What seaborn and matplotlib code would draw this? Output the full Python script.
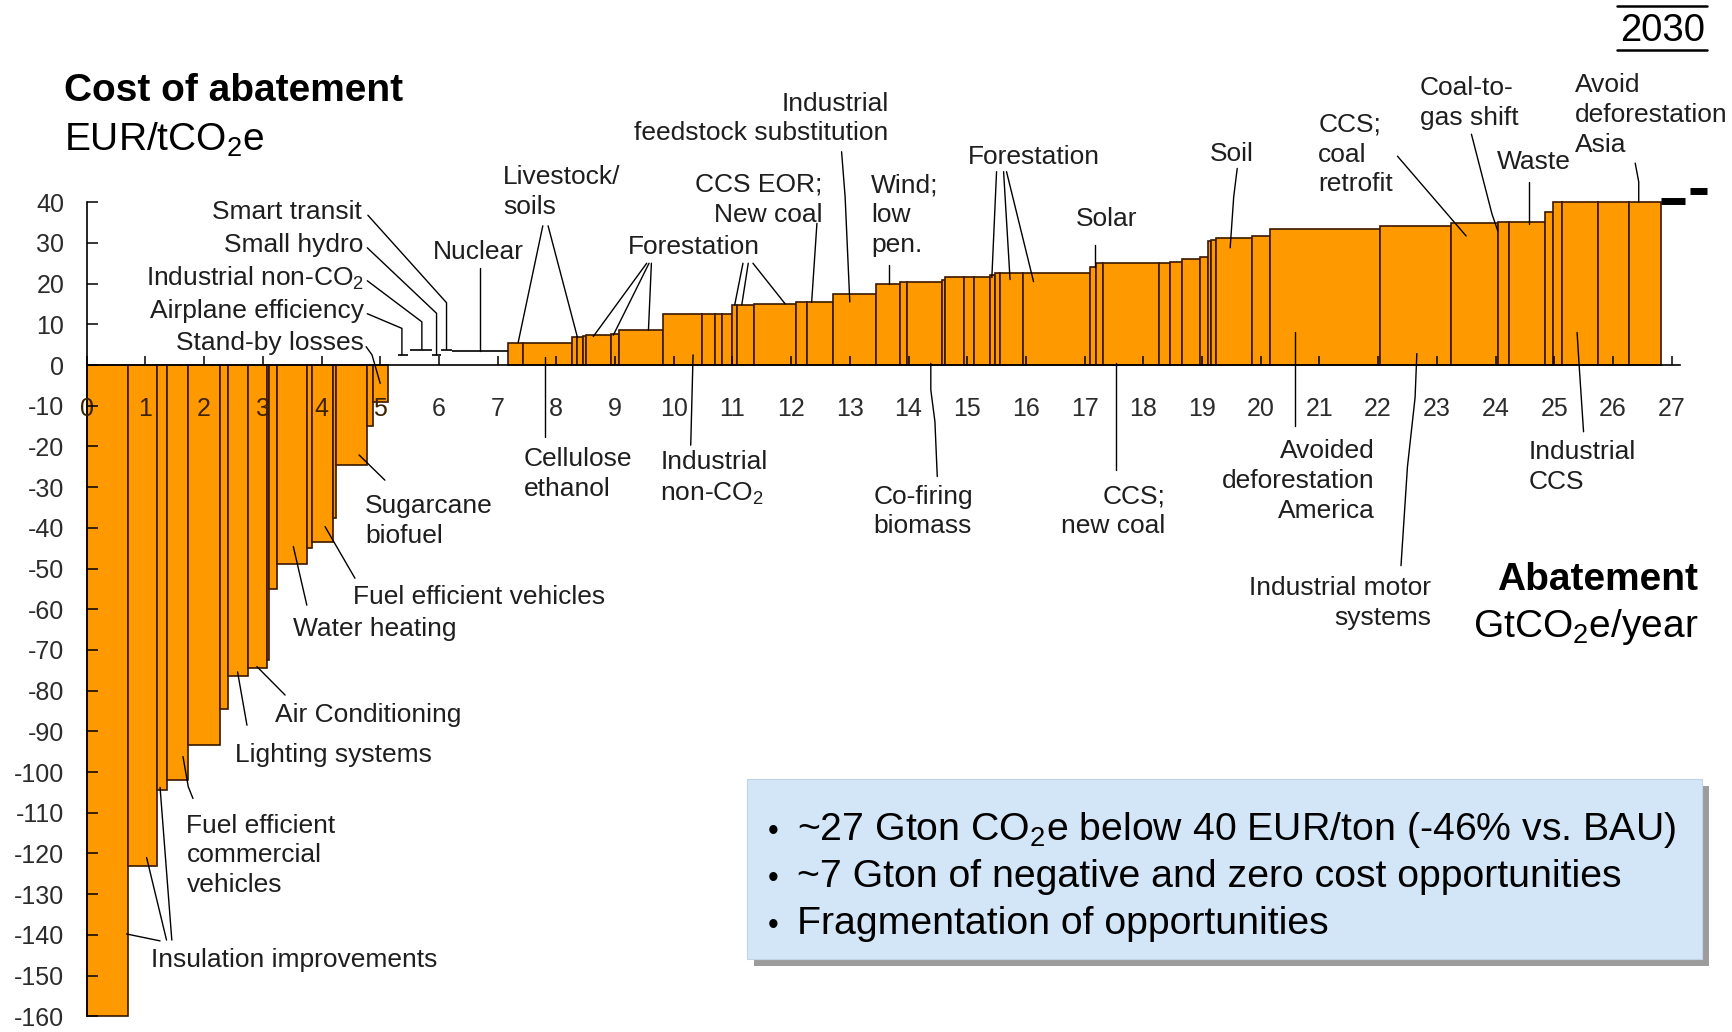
import numpy as np
import pandas as pd
import seaborn as sns
import matplotlib.pyplot as plt
from matplotlib.patches import Rectangle

W, H = 1733, 1032

# Abatement cost curve 2030: bar edges (cumulative GtCO2e/year) and cost per bar (EUR/tCO2e)
neg_edges = [0.00, 0.70, 1.19, 1.36, 1.73, 2.27, 2.40, 2.74, 3.07, 3.11, 3.24, 3.76,
             3.84, 4.20, 4.24, 4.77, 4.88, 5.14]
neg_costs = [-160, -123, -104.5, -102, -93.4, -84.6, -76.4, -74.4, -72.5, -55, -48.8,
             -45, -43.5, -37.5, -24.6, -15, -9]

# near-zero measures (small hydro, nuclear, ...)
low_edges = [5.14, 5.31, 5.48, 5.51, 5.88, 6.03, 6.22, 7.18]
low_costs = [0, 2.5, 0, 3.8, 2.5, 3.8, 3.4]

pos_edges = [7.18, 7.44, 8.26, 8.35, 8.46, 8.50, 8.94, 9.06, 9.81, 10.48, 10.70, 10.82,
             11.00, 11.07, 11.36, 12.09, 12.27, 12.72, 13.45, 13.86, 13.97, 14.57, 14.62,
             14.95, 15.12, 15.39, 15.47, 15.56, 15.95, 17.09, 17.20, 17.32, 18.27, 18.46,
             18.66, 18.97, 19.11, 19.15, 19.24, 19.85, 20.16, 22.04, 23.24, 24.04, 24.23,
             24.84, 24.98, 25.14, 25.75, 26.28, 26.82]
pos_costs = [5.5, 5.5, 6.8, 6.9, 7.1, 7.3, 7.5, 8.6, 12.5, 12.5, 12.5, 12.5, 14.8, 14.8,
             15.0, 15.4, 15.4, 17.4, 19.8, 20.3, 20.3, 20.9, 21.7, 21.7, 21.7, 22.1, 22.7,
             22.7, 22.7, 24.2, 25.0, 25.0, 25.0, 25.4, 26.0, 26.5, 30.4, 30.8, 31.2, 31.7,
             33.5, 34.1, 35.0, 35.1, 35.1, 37.5, 40, 40, 40, 40]

# black tail dashes beyond 40 EUR/t
tail_left = [26.82, 27.32]
tail_right = [27.23, 27.61]
tail_costs = [40.4, 42.75]

x_ticks = list(range(0, 28))
y_ticks = list(range(-160, 41, 10))

bullets = ["~27 Gton CO$_2$e below 40 EUR/ton (-46% vs. BAU)",
           "~7 Gton of negative and zero cost opportunities",
           "Fragmentation of opportunities"]

# label text, x, y, alignment, leader lines (data coords)
labels = [
    ("Smart transit", 4.69, 37.6, "right", [[(4.79, 36.8), (6.13, 15.3), (6.13, 3.8)]]),
    ("Small hydro", 4.72, 29.5, "right", [[(4.78, 28.8), (5.96, 12.7), (5.96, 2.5)]]),
    ("Industrial non-CO$_2$", 4.72, 21.4, "right", [[(4.78, 20.7), (5.71, 10.6), (5.71, 3.8)]]),
    ("Airplane efficiency", 4.72, 13.3, "right", [[(4.78, 12.6), (5.37, 9.0), (5.37, 2.5)]]),
    ("Stand-by losses", 4.72, 5.4, "right", [[(4.76, 4.5), (4.86, 2.5), (5.0, -4.5)]]),
    ("Nuclear", 6.67, 27.8, "center", [[(6.7, 23.8), (6.7, 3.4)]]),
    ("Livestock/\nsoils", 7.09, 42.5, "left",
     [[(7.77, 34.2), (7.35, 5.5)], [(7.86, 34.2), (8.36, 6.8)]]),
    ("Forestation", 10.34, 29.1, "center",
     [[(9.54, 25.0), (8.63, 7.0)], [(9.58, 25.0), (8.97, 7.3)], [(9.62, 25.0), (9.57, 8.6)],
      [(11.18, 25.0), (11.04, 14.8)], [(11.27, 25.0), (11.16, 14.8)],
      [(11.35, 25.0), (11.9, 15.0)]]),
    ("CCS EOR;\nNew coal", 12.54, 40.6, "right", [[(12.44, 34.8), (12.35, 15.4)]]),
    ("Industrial\nfeedstock substitution", 13.66, 60.6, "right",
     [[(12.86, 52.4), (12.92, 41.4), (13.0, 15.5)]]),
    ("Wind;\nlow\npen.", 13.36, 36.9, "left", [[(13.66, 24.6), (13.66, 19.8)]]),
    ("Forestation", 16.14, 51.1, "center",
     [[(15.5, 47.5), (15.42, 21.5)], [(15.62, 47.5), (15.73, 21.0)],
      [(15.67, 47.5), (16.13, 20.5)]]),
    ("Solar", 17.37, 35.9, "center", [[(17.18, 29.5), (17.18, 24.2)]]),
    ("Soil", 19.51, 51.9, "center", [[(19.6, 48.3), (19.54, 41.3), (19.48, 28.8)]]),
    ("CCS;\ncoal\nretrofit", 20.98, 51.7, "left", [[(22.33, 51.3), (23.5, 31.7)]]),
    ("Coal-to-\ngas shift", 22.71, 64.4, "left",
     [[(23.59, 56.7), (23.94, 37.1), (24.04, 32.9)]]),
    ("Waste", 24.66, 49.8, "center", [[(24.57, 45.0), (24.57, 34.6)]]),
    ("Avoid\ndeforestation\nAsia", 25.36, 61.4, "left",
     [[(26.38, 49.6), (26.44, 45.0), (26.44, 40.0)]]),
    ("Cellulose\nethanol", 7.45, -26.8, "left", [[(7.81, 2.0), (7.81, -17.6)]]),
    ("Industrial\nnon-CO$_2$", 9.77, -27.9, "left", [[(10.33, 2.5), (10.29, -19.7)]]),
    ("Co-firing\nbiomass", 13.4, -36.0, "left",
     [[(14.38, 0.4), (14.38, -6.1), (14.45, -13.9), (14.49, -27.4)]]),
    ("CCS;\nnew coal", 18.38, -36.0, "right", [[(17.53, 0.4), (17.53, -25.8)]]),
    ("Avoided\ndeforestation\nAmerica", 21.94, -28.5, "right", [[(20.58, 8.0), (20.58, -15.0)]]),
    ("Industrial motor\nsystems", 22.9, -58.5, "right",
     [[(22.66, 2.8), (22.63, -8.0), (22.5, -25.0), (22.39, -49.3)]]),
    ("Industrial\nCCS", 24.56, -25.1, "left", [[(25.39, 8.0), (25.42, 1.0), (25.5, -16.4)]]),
    ("Sugarcane\nbiofuel", 4.74, -38.4, "left", [[(4.64, -22.1), (5.08, -28.3)]]),
    ("Fuel efficient vehicles", 4.53, -56.9, "left", [[(4.06, -39.7), (4.57, -52.4)]]),
    ("Water heating", 3.51, -64.8, "left", [[(3.52, -44.6), (3.75, -59.0)]]),
    ("Air Conditioning", 3.21, -86.0, "left", [[(2.9, -74.1), (3.38, -81.1)]]),
    ("Lighting systems", 2.53, -95.8, "left", [[(2.57, -75.4), (2.73, -88.5)]]),
    ("Fuel efficient\ncommercial\nvehicles", 1.70, -120.5, "left",
     [[(1.64, -96.2), (1.73, -103.6), (1.81, -106.5)]]),
    ("Insulation improvements", 1.10, -146.2, "left",
     [[(0.68, -139.8), (1.25, -141.5)], [(1.02, -121.0), (1.36, -141.3)],
      [(1.25, -103.8), (1.45, -141.3)]]),
]


def bars_frame(edges, costs, group):
    edges = np.asarray(edges)
    return pd.DataFrame({"left": edges[:-1], "width": np.diff(edges),
                         "cost": costs, "group": group})


df = pd.concat([bars_frame(neg_edges, neg_costs, "neg"),
                bars_frame(low_edges, low_costs, "low"),
                bars_frame(pos_edges, pos_costs, "pos")], ignore_index=True)

sns.set_theme(style="white")
plt.rcParams["font.family"] = ["Liberation Sans", "DejaVu Sans"]
plt.rcParams["mathtext.fontset"] = "custom"
plt.rcParams["mathtext.rm"] = "Liberation Sans"
plt.rcParams["mathtext.it"] = "Liberation Sans:italic"
plt.rcParams["mathtext.bf"] = "Liberation Sans:bold"

fig = plt.figure(figsize=(W / 100, H / 100), dpi=100)
ax = fig.add_axes([0, 0, 1, 1])
# pixel layout: x=0 at 86.7px, 58.7px per Gt; y=0 at 365px, 4.07px per EUR
ax.set_xlim(-86.7 / 58.7, (W - 86.7) / 58.7)
ax.set_ylim(-(H - 365) / 4.07, 365 / 4.07)
ax.set_axisbelow(False)

orange = "#FF9900"
edge = "#3a1800"
colored = df[df["group"] != "low"]
ax.bar(colored["left"], colored["cost"], width=colored["width"], align="edge",
       color=orange, edgecolor=edge, linewidth=1.2, zorder=1)
low = df[(df["group"] == "low") & (df["cost"] > 0)]
ax.hlines(low["cost"], low["left"], low["left"] + low["width"],
          color="black", lw=1.2, zorder=1)
ax.hlines(tail_costs, tail_left, tail_right, color="black", lw=5, zorder=1)

# axes
sns.despine(ax=ax, top=True, right=True)
ax.spines["left"].set_position(("data", 0))
ax.spines["bottom"].set_position(("data", 0))
ax.spines["left"].set_bounds(-160, 40)
ax.spines["bottom"].set_bounds(0, 27.15)
for s in ["left", "bottom"]:
    ax.spines[s].set_color("black")
    ax.spines[s].set_linewidth(1.2)

ax.set_xticks(x_ticks, [str(t) for t in x_ticks])
ax.set_yticks(y_ticks, [str(t) for t in y_ticks])
ax.tick_params(axis="x", bottom=True, direction="in", length=6.5, width=1.1,
               color="black", pad=23, labelsize=18, labelcolor="#2b2b2b")
ax.tick_params(axis="y", left=True, direction="in", length=8, width=1.1,
               color="black", pad=16, labelsize=18, labelcolor="#2b2b2b")
for lab in ax.get_xticklabels()[:6]:
    lab.set_color("#3d2200")
ax.grid(False)

for text, x, y, ha, leaders in labels:
    ax.text(x, y, text, ha=ha, va="center", multialignment=ha, fontsize=19,
            color="#1e1e1e", linespacing=1.3, zorder=4)
    for line in leaders:
        xs, ys = zip(*line)
        ax.plot(xs, ys, color="black", lw=1.0, zorder=3)


def fx(px):
    return px / W


def fy(py):
    return 1 - py / H


# axis titles
fig.text(fx(64), fy(101), "Cost of abatement", fontsize=28, fontweight="bold",
         va="baseline", color="black")
fig.text(fx(64), fy(151), "EUR/tCO$_2$e", fontsize=28, va="baseline", color="black")
fig.text(fx(1698), fy(590), "Abatement", fontsize=28, fontweight="bold",
         ha="right", va="baseline", color="black")
fig.text(fx(1698), fy(637), "GtCO$_2$e/year", fontsize=28, ha="right",
         va="baseline", color="black")

# year tag
fig.text(fx(1705), fy(41), "2030", fontsize=27.5, ha="right", va="baseline", color="black")
for yy in [5.5, 49.7]:
    fig.add_artist(plt.Line2D([fx(1617), fx(1707)], [fy(yy), fy(yy)],
                              transform=fig.transFigure, color="black", lw=1.8))

# key-findings box
bx0, by0, bx1, by1 = 747, 779, 1702, 959
fig.add_artist(Rectangle((fx(bx0 + 7), fy(by1 + 7)), fx(bx1 - bx0), (by1 - by0) / H,
                         transform=fig.transFigure, facecolor="#9c9c9c",
                         edgecolor="none", zorder=5))
fig.add_artist(Rectangle((fx(bx0), fy(by1)), fx(bx1 - bx0), (by1 - by0) / H,
                         transform=fig.transFigure, facecolor="#D3E6F7",
                         edgecolor="#c0d4e6", lw=0.8, zorder=6))
for i, b in enumerate(bullets):
    base = 840 + 47 * i
    fig.text(fx(773), fy(base), "\u2022", fontsize=22, ha="center", va="baseline",
             color="black", zorder=7)
    fig.text(fx(797), fy(base), b, fontsize=28.3, ha="left", va="baseline",
             color="black", zorder=7)

fig.savefig("out.png", dpi=100, facecolor="white")
